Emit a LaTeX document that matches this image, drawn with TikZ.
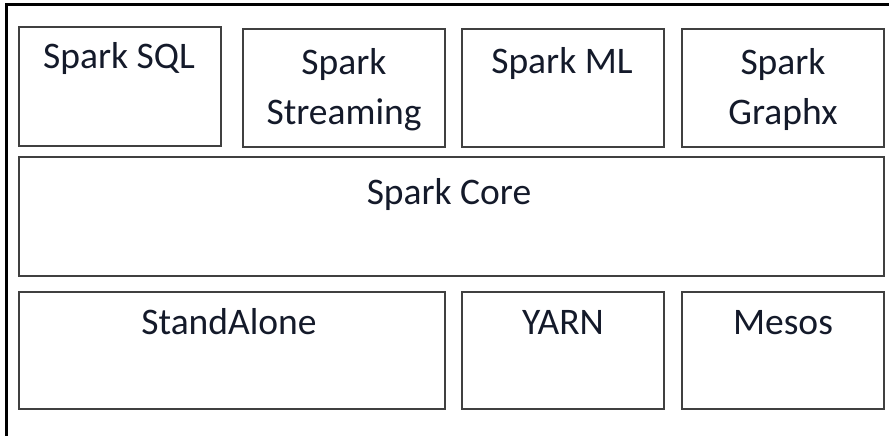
\documentclass[tikz,border=0pt]{standalone}
\usepackage{fontspec}
\setmainfont{Carlito}
\definecolor{boxline}{HTML}{404040}
\definecolor{txt}{HTML}{141a2a}
\begin{document}
\begin{tikzpicture}[x=1pt,y=-1pt,
  frame/.style={draw=black,line width=3pt},
  blk/.style={draw=boxline,line width=2.2pt},
  lbl/.style={anchor=base,inner sep=0pt,align=center,text=txt,
    font=\fontsize{37.5}{50.5}\selectfont}]
\useasboundingbox (0,0) rectangle (889,436);
% outer frame (top and left edges only)
\coordinate (ftl) at (6,5);
\coordinate (ftr) at (889,5);
\coordinate (fbl) at (6,436);
\draw[frame] (ftr) -- (ftl) -- (fbl);
% top row
\draw[blk] (19,27) rectangle (221,146);
\node[lbl] (sql) at (119,69) {Spark SQL};
\draw[blk] (243,29) rectangle (445,147);
\node[lbl] (stream) at (344,124.5) {Spark\\Streaming};
\draw[blk] (462,29) rectangle (664,147);
\node[lbl] (ml) at (562,74) {Spark ML};
\draw[blk] (682,29) rectangle (884,147);
\node[lbl] (graphx) at (783,124.5) {Spark\\Graphx};
% middle row
\draw[blk] (19,157) rectangle (884,276);
\node[lbl] (core) at (449,204) {Spark Core};
% bottom row
\draw[blk] (19,292) rectangle (445,409);
\node[lbl] (standalone) at (229,334) {StandAlone};
\draw[blk] (462,292) rectangle (664,409);
\node[lbl] (yarn) at (563,334) {YARN};
\draw[blk] (682,292) rectangle (884,409);
\node[lbl] (mesos) at (783,334) {Mesos};
\end{tikzpicture}
\end{document}
